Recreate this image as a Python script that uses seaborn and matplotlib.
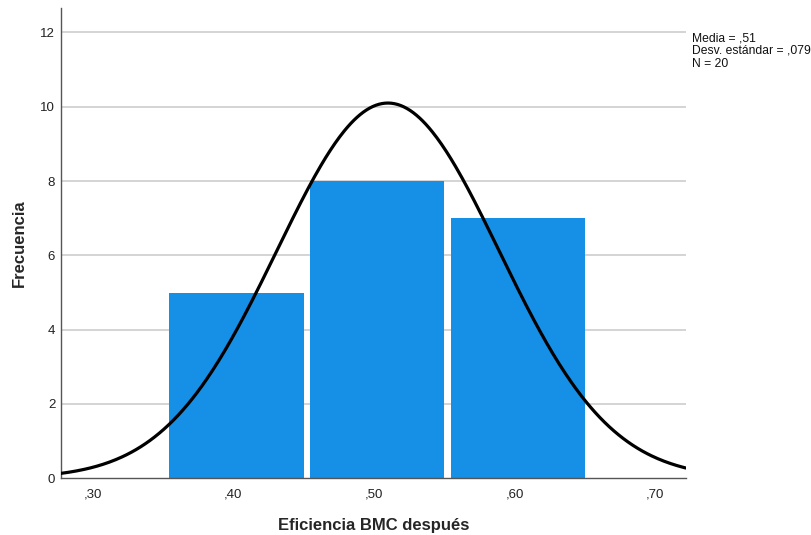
import numpy as np
import pandas as pd
import matplotlib
matplotlib.use("Agg")
import matplotlib.pyplot as plt
import seaborn as sns

# Histogram of efficiency after BMC
bin_edges = [0.35, 0.45, 0.55, 0.65]
bin_centers = [0.40, 0.50, 0.60]
counts = [5, 8, 7]
x_ticks = [0.30, 0.40, 0.50, 0.60, 0.70]
x_tick_labels = [",30", ",40", ",50", ",60", ",70"]
y_ticks = [0, 2, 4, 6, 8, 10, 12]
mean_val = 0.51
sd_val = 0.079
n_val = 20

sns.set_theme(style="white")
plt.rcParams["font.family"] = ["Liberation Sans", "DejaVu Sans"]

fig = plt.figure(figsize=(8.11, 5.35), dpi=100)
ax = fig.add_axes([0.0749, 0.106, 0.771, 0.8785])

df = pd.DataFrame({"valor": bin_centers, "frecuencia": counts})

for y in y_ticks[1:]:
    ax.axhline(y, color="#d4d4d4", lw=1.4, zorder=0)

shrink = 0.955
sns.histplot(data=df, x="valor", weights="frecuencia", bins=bin_edges,
             shrink=shrink, color="#1590e6", alpha=1.0, edgecolor="none",
             ax=ax, zorder=2)
# bars sit flush with the right edge of each bin, gap on the left
bw = bin_edges[1] - bin_edges[0]
for p in ax.patches:
    p.set_x(p.get_x() + bw * (1 - shrink) / 2)

# Normal curve scaled to counts
xs = np.linspace(0.2773, 0.722, 400)
ys = n_val * bw / (sd_val * np.sqrt(2 * np.pi)) * np.exp(-0.5 * ((xs - mean_val) / sd_val) ** 2)
sns.lineplot(x=xs, y=ys, color="black", lw=2.3, ax=ax, zorder=3)

ax.set_xlim(0.2773, 0.722)
ax.set_ylim(0, 12.65)
ax.set_xticks(x_ticks)
ax.set_xticklabels(x_tick_labels, fontsize=9.5, color="#222222")
ax.set_yticks(y_ticks)
ax.set_yticklabels([str(v) for v in y_ticks], fontsize=9.5, color="#222222")
ax.tick_params(axis="both", length=0, pad=4)
ax.tick_params(axis="x", pad=7)

for side in ["top", "right"]:
    ax.spines[side].set_visible(False)
for side in ["left", "bottom"]:
    ax.spines[side].set_color("#555555")
    ax.spines[side].set_linewidth(1.0)

ax.set_xlabel("Eficiencia BMC después", fontsize=12, fontweight="bold", labelpad=13)
ax.set_ylabel("Frecuencia", fontsize=12, fontweight="bold", labelpad=10)

fig.text(0.853, 0.940, "Media = ,51\nDesv. estándar = ,079\nN = 20",
         fontsize=8.7, va="top", ha="left", linespacing=1.08, color="#111111")

fig.savefig("out.png", dpi=100)
